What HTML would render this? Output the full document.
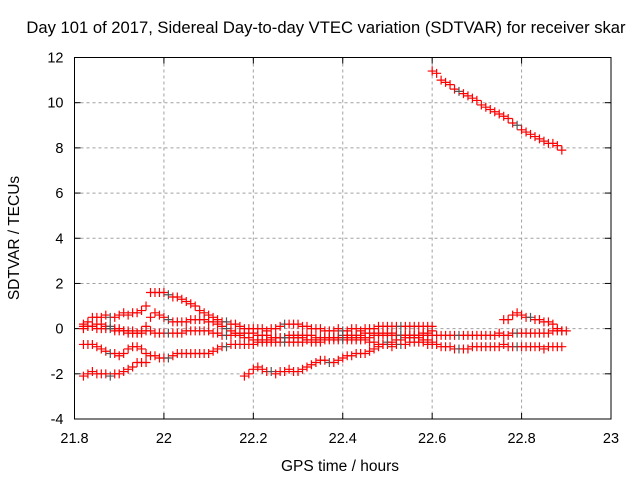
<!DOCTYPE html>
<html><head><meta charset="utf-8"><style>
body{margin:0;background:#fff}
svg{display:block;font-family:"Liberation Sans",sans-serif}
</style></head><body>
<svg id="chart" width="640" height="480" viewBox="0 0 640 480">
<rect width="640" height="480" fill="#fff"/>
<text x="326" y="33" font-size="16.6" text-anchor="middle" fill="#000">Day 101 of 2017, Sidereal Day-to-day VTEC variation (SDTVAR) for receiver skar</text>
<text x="340" y="471" font-size="15.5" text-anchor="middle">GPS time / hours</text>
<text transform="translate(19,238) rotate(-90)" font-size="15.5" text-anchor="middle">SDTVAR / TECUs</text>
<g id="grid"></g><g id="ticks"></g><g id="series"></g>
<rect x="74.5" y="57.5" width="536.5" height="361.5" fill="none" stroke="#000" stroke-width="1"/>
</svg>
<script>
const xTicks=[21.8,22,22.2,22.4,22.6,22.8,23];
const xTickLabels=["21.8","22","22.2","22.4","22.6","22.8","23"];
const yTicks=[-4,-2,0,2,4,6,8,10,12];
const yTickLabels=["-4","-2","0","2","4","6","8","10","12"];
const sampleStep=0.01;
const aStart=21.82;
const aY=[0.2,0.3,0.5,0.5,0.5,0.6,0.5,0.5,0.6,0.7,0.6,0.7,0.7,0.8,1.0,1.6,1.6,1.6,1.6,1.5,1.4,1.4,1.3,1.2,1.1,1.0,0.8,0.7,0.6,0.5,0.4,0.3,0.3,0.2,0.2,0.1,0.0,0.0,0.0,0.0,0.0,-0.1,0.0,0.0,0.1,0.2,0.2,0.2,0.2,0.1,0.1,0.0,0.0,0.0,-0.1,-0.1,-0.1,0.0,-0.1,-0.1,0.0,0.0,-0.1,0.0,0.0,0.0,0.1,0.1,0.1,0.1,0.1,0.1,0.1,0.1,0.1,0.1,0.1,0.1,0.1];
const bStart=21.82;
const bY=[0.0,0.1,0.1,0.2,0.2,0.1,0.1,0.0,
0.0,-0.1,-0.1,-0.1,-0.2,-0.2,0.1,0.5,0.7,0.6,
0.5,0.4,0.3,0.3,0.3,0.3,0.4,0.4,0.4,0.4,
0.3,0.3,0.2,0.1,0.0,-0.1,-0.2,-0.3,-0.4,-0.4,
-0.5,-0.5,-0.5,-0.6,-0.6,-0.6,-0.6,-0.6,-0.6,-0.6,
-0.6,-0.6,-0.5,-0.5,-0.5,-0.5,-0.4,-0.4,-0.4,-0.4,
-0.4,-0.4,-0.4,-0.4,-0.4,-0.4,-0.4,-0.3,-0.3,-0.3,
-0.3,-0.3,-0.3,-0.3,-0.3,-0.3,-0.3,-0.3,-0.3,-0.3,
-0.3,-0.3,-0.3,-0.3,-0.3,-0.3,-0.3,-0.3,-0.3,-0.3,
-0.3,-0.3,-0.3,-0.3,-0.3,-0.2,-0.3,-0.3,-0.2,-0.2,
-0.2,-0.2,-0.2,-0.2,-0.2,-0.2,-0.2,-0.1,-0.1,-0.1];
const cStart=21.82;
const cY=[-0.7,-0.7,-0.7,-0.8,-0.9,-1.0,-1.1,-1.1,
-1.2,-1.1,-0.9,-0.8,-0.8,-0.9,-1.1,-1.2,-1.2,-1.3,
-1.3,-1.3,-1.2,-1.1,-1.1,-1.1,-1.1,-1.1,-1.1,-1.1,
-1.1,-1.0,-0.9,-0.8,-0.8,-0.7,-0.7,-0.7,-0.7,-0.7,
-0.7,-0.6,-0.6,-0.5,-0.5,-0.4,-0.4,-0.4,-0.4,-0.4,
-0.4,-0.4,-0.5,-0.6,-0.6,-0.6,-0.5,-0.5,-0.5,-0.5,
-0.5,-0.5,-0.5,-0.5,-0.5,-0.5,-0.6,-0.6,-0.7,-0.7,
-0.7,-0.8,-0.7,-0.7,-0.7,-0.6,-0.6,-0.6,-0.6,-0.7,
-0.7,-0.7,-0.8,-0.8,-0.8,-0.9,-0.9,-0.9,-0.9,-0.8,
-0.8,-0.8,-0.8,-0.8,-0.8,-0.8,-0.7,-0.8,-0.8,-0.8,
-0.8,-0.8,-0.8,-0.8,-0.8,-0.9,-0.8,-0.8,-0.8,-0.8];
const dStart=21.82;
const dY=[-2.1,-2.0,-1.9,-2.0,-2.0,-2.0,-2.1,-2.0,-2.0,-1.9,-1.8,-1.7,-1.5,-1.5,-1.5];
const eStart=22.18;
const eY=[-2.1,-2.0,-1.8,-1.7,-1.8,-1.9,-1.9,-2.0,-1.9,-1.9,
-1.8,-1.9,-1.9,-1.8,-1.7,-1.6,-1.5,-1.4,-1.4,-1.5,
-1.5,-1.4,-1.3,-1.2,-1.2,-1.1,-1.1,-1.1,-1.0,-0.9,
-0.8,-0.7,-0.6,-0.6,-0.5,-0.5,-0.4,-0.4,-0.3,-0.3,
-0.2,-0.2,-0.1];
const fStart=21.82;
const fY=[0.1,0.1,0.1,0.0,0.0,0.0,0.0,-0.1,
-0.1,-0.1,-0.2,-0.2,-0.2,-0.1,-0.1,-0.1,-0.2,-0.2,
-0.2,-0.2,-0.2,-0.2,-0.2,-0.1,-0.1,-0.1,-0.1,-0.1,
-0.1,-0.2,-0.2,-0.3,-0.3,-0.3,-0.2,-0.2,-0.2,-0.2,
-0.2,-0.3,-0.3,-0.3,-0.4,-0.4,-0.4,-0.4,-0.3,-0.3,
-0.3,-0.3,-0.3,-0.3,-0.4,-0.4,-0.4,-0.4,-0.4,-0.4,
-0.3,-0.3,-0.3,-0.3,-0.3,-0.2,-0.2,-0.2,-0.2,-0.2,
-0.2,-0.2,-0.3,-0.3,-0.3,-0.3,-0.4,-0.4,-0.5,-0.5,-0.6];
const gStart=22.76;
const gY=[0.4,0.4,0.6,0.7,0.6,0.5,0.5,0.4,0.4,0.3,0.3,0.2,0.0,-0.1,-0.1];
const hStart=22.60;
const hY=[11.4,11.3,11.0,10.9,10.8,10.6,10.5,10.4,10.3,10.2,10.1,9.9,9.8,9.7,9.6,9.5,9.4,9.3,9.1,9.0,8.8,8.7,8.6,8.5,8.4,8.3,8.2,8.2,8.1,7.9];

const L=74.5,R=611,T=57.5,B=419;
const sx=v=>L+(v-21.8)/1.2*(R-L);
const sy=v=>B-(v+4)/16*(B-T);
const NS="http://www.w3.org/2000/svg";
function mk(tag,attrs,parent){const e=document.createElementNS(NS,tag);for(const k in attrs)e.setAttribute(k,attrs[k]);parent.appendChild(e);return e;}
const grid=document.getElementById('grid'),ticks=document.getElementById('ticks'),ser=document.getElementById('series');
xTicks.forEach((v,i)=>{const x=sx(v);
 if(i>0&&i<xTicks.length-1){const g=mk('line',{x1:x,x2:x,y1:T,y2:B,stroke:'#a0a0a0','stroke-dasharray':'3,3'},grid);
 
 }
 const t=mk('text',{x:x,y:B+24,'font-size':14.5,'text-anchor':'middle'},ticks);t.textContent=xTickLabels[i];
 
 
 mk('line',{x1:x,x2:x,y1:B,y2:B-6,stroke:'#000'},ticks);mk('line',{x1:x,x2:x,y1:T,y2:T+6,stroke:'#000'},ticks);});
yTicks.forEach((v,i)=>{const y=sy(v);
 if(i>0&&i<yTicks.length-1){const g=mk('line',{x1:L,x2:R,y1:y,y2:y,stroke:'#a0a0a0','stroke-dasharray':'3,3'},grid);
 
 }
 const t=mk('text',{x:L-11,y:y+5,'font-size':14.5,'text-anchor':'end'},ticks);t.textContent=yTickLabels[i];
 
 
 mk('line',{x1:L,x2:L+6,y1:y,y2:y,stroke:'#000'},ticks);mk('line',{x1:R,x2:R-6,y1:y,y2:y,stroke:'#000'},ticks);});
const all=[[aStart,aY,'a'],[bStart,bY,'b'],[cStart,cY,'c'],[dStart,dY,'d'],[eStart,eY,'e'],[fStart,fY,'f'],[gStart,gY,'g'],[hStart,hY,'h']];
all.forEach(([x0,ys,n])=>{
 const g=mk('g',{},ser);
 
 
 ys.forEach((yv,i)=>{const px=sx(x0+i*sampleStep),py=sy(yv);
  const p=mk('path',{d:`M${px-4.5},${py}H${px+4.5}M${px},${py-4.5}V${py+4.5}`,stroke:(i%13==6)?'#555':'#f00','stroke-width':1.2},g);
  
  });
});
</script>
</body></html>
